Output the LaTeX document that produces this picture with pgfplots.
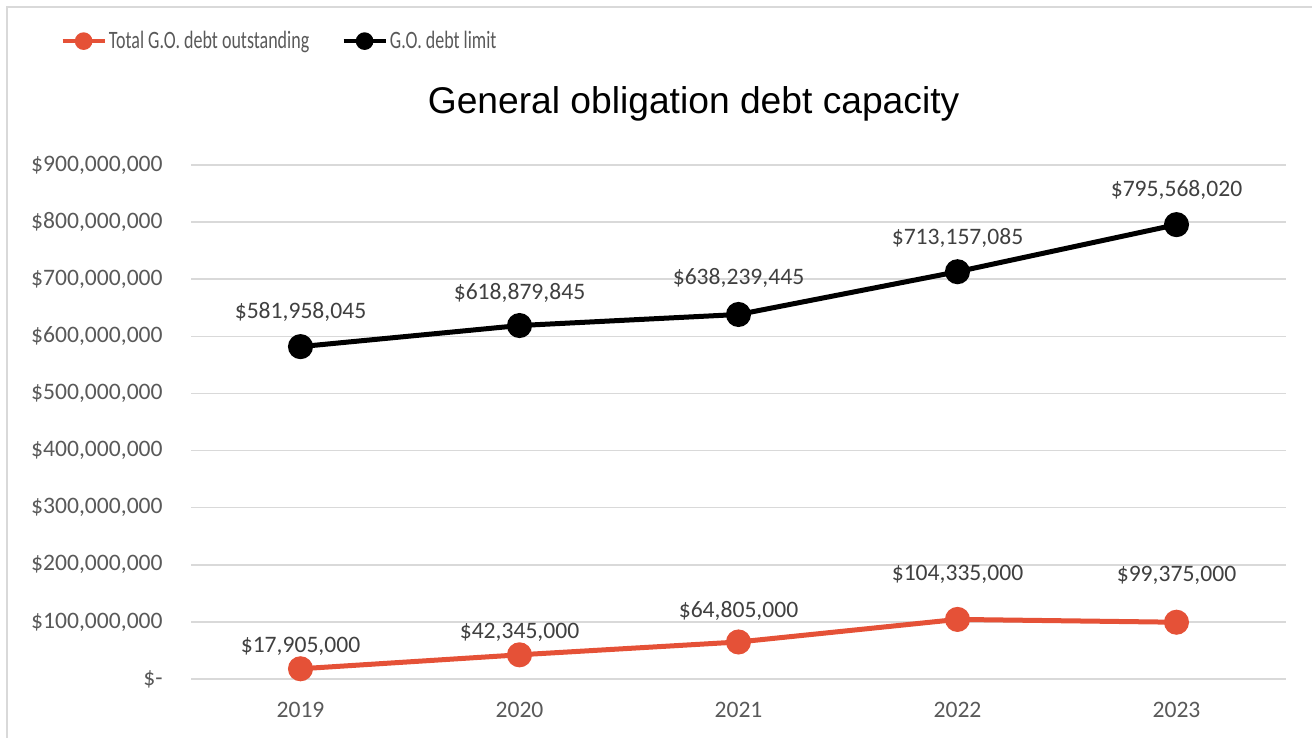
\documentclass[border=0pt]{standalone}
\usepackage{fontspec}
\setmainfont{Carlito}
\newfontfamily\titlefont{Liberation Sans}
\usepackage{pgfplots}
\pgfplotsset{compat=1.18}
\usepackage{pgfplotstable}

\definecolor{redline}{RGB}{229,81,55}
\definecolor{gridgray}{RGB}{217,217,217}
\definecolor{ticktext}{RGB}{89,89,89}
\definecolor{labtext}{RGB}{64,64,64}

% x = year index, y = value, dy = label offset (pt), lab = label text
\pgfplotstableread{
x y dy lab
0 17905000 11 17,905,000
1 42345000 11 42,345,000
2 64805000 15.5 64,805,000
3 104335000 22.5 104,335,000
4 99375000 23.5 99,375,000
}\outstanding

\pgfplotstableread{
x y dy lab
0 581958045 17.5 581,958,045
1 618879845 16.5 618,879,845
2 638239445 18.5 638,239,445
3 713157085 17 713,157,085
4 795568020 17.5 795,568,020
}\limit

\begin{document}
\begin{tikzpicture}
\useasboundingbox (0,0) rectangle (656pt,369pt);
\draw[gridgray, line width=0.75pt] (3.5pt,-20pt) rectangle (720pt,365.5pt);
\begin{axis}[
    at={(95.5pt,29.5pt)}, anchor=south west,
    scale only axis,
    width=547.5pt, height=257pt,
    xmin=-0.5, xmax=4.5,
    ymin=0, ymax=900000000,
    scaled y ticks=false,
    xtick={0,1,2,3,4},
    xticklabels={2019,2020,2021,2022,2023},
    ytick={0,100000000,200000000,300000000,400000000,500000000,600000000,700000000,800000000,900000000},
    yticklabels={\$-,{\$100,000,000},{\$200,000,000},{\$300,000,000},{\$400,000,000},{\$500,000,000},{\$600,000,000},{\$700,000,000},{\$800,000,000},{\$900,000,000}},
    ymajorgrids,
    grid style={gridgray, line width=0.75pt},
    axis line style={draw=none},
    major tick length=0pt,
    tick label style={font=\fontsize{11.8}{14}\selectfont, text=ticktext},
    yticklabel style={anchor=east, inner sep=0pt, xshift=-14pt},
    xticklabel style={anchor=north, inner sep=0pt, yshift=-11.5pt},
    title={\titlefont\fontsize{18.6}{22}\selectfont General obligation debt capacity},
    title style={at={(0.459,1.096)}, anchor=center, inner sep=0pt},
    legend columns=2,
    legend style={at={(-0.1197,1.241)}, anchor=west, draw=none, fill=none,
        inner sep=0pt, nodes={inner sep=1pt, text=ticktext},
        font=\fontsize{12.5}{15}\selectfont,
        /tikz/every even column/.append style={column sep=15pt}},
    legend cell align=left,
    legend image code/.code={
        \draw[#1, mark size=3.25pt, line width=2.3pt, mark repeat=2, mark phase=2]
            plot coordinates {(0pt,0pt) (10.5pt,0pt) (21pt,0pt)};
    },
    point meta=explicit symbolic,
    nodes near coords={\$\pgfplotspointmeta},
    visualization depends on={\thisrow{dy} \as \dy},
    nodes near coords style={anchor=center, yshift=\dy pt,
        font=\fontsize{11.8}{14}\selectfont, text=labtext},
]
\addplot[redline, line width=2.5pt, mark=*, mark size=5pt,
    mark options={fill=redline, draw=redline}]
    table[x=x, y=y, meta=lab] {\outstanding};
\addlegendentry{\scalebox{0.72}[1]{Total G.O. debt outstanding}}
\addplot[black, line width=2.5pt, mark=*, mark size=5pt,
    mark options={fill=black, draw=black}]
    table[x=x, y=y, meta=lab] {\limit};
\addlegendentry{\scalebox{0.72}[1]{G.O. debt limit}}
\end{axis}
\end{tikzpicture}
\end{document}
